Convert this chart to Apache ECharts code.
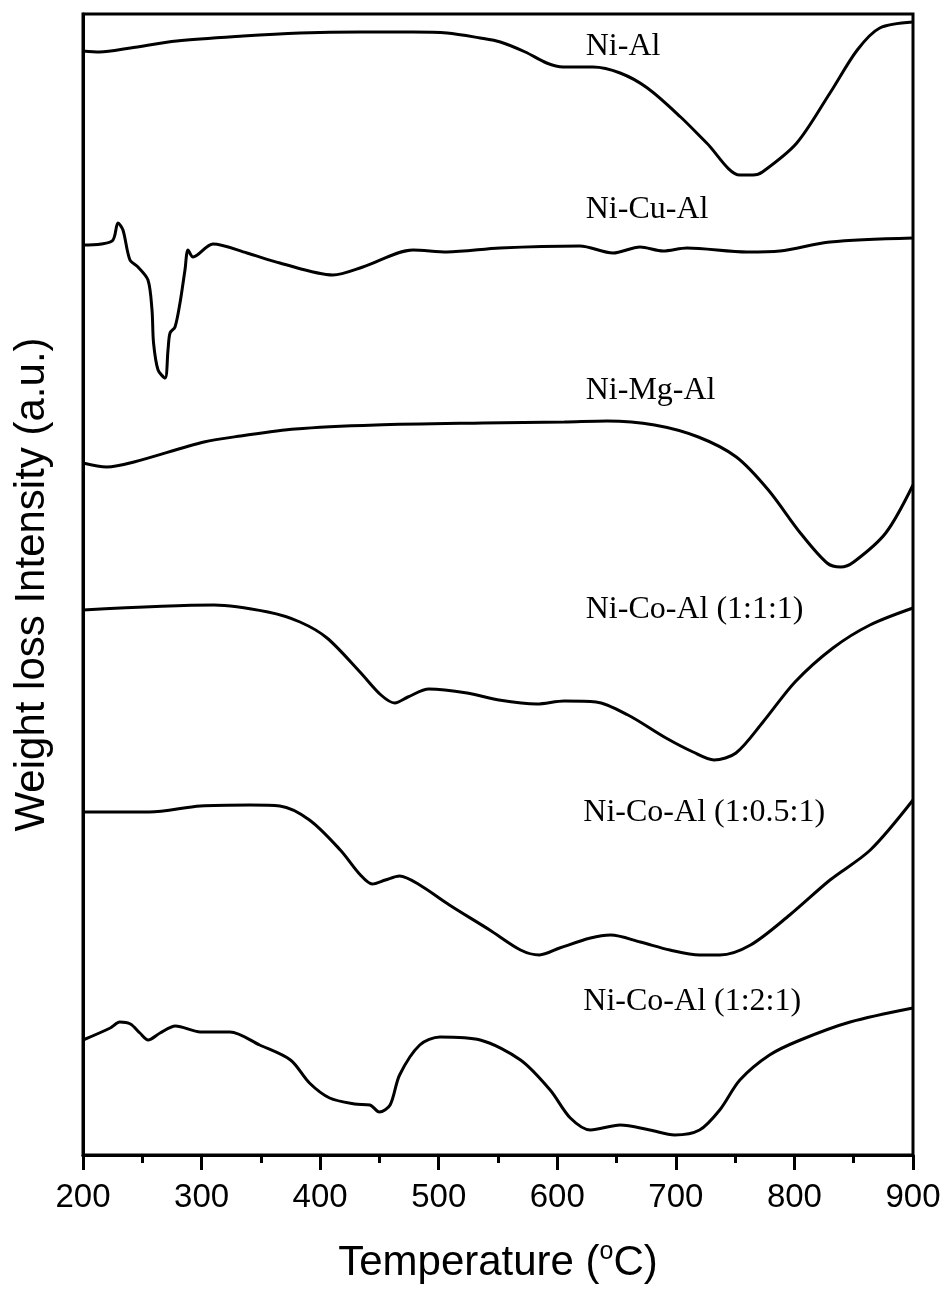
<!DOCTYPE html>
<html>
<head>
<meta charset="utf-8">
<script src="https://cdn.jsdelivr.net/npm/echarts@6/dist/echarts.min.js"></script>
<style>
  html, body { margin: 0; padding: 0; background: #fff; }
  #container { width: 949px; height: 1295px; }
</style>
</head>
<body>
<div id="container"></div>
<script>
// x ticks (temperature, oC)
var xTicks = [200, 300, 400, 500, 600, 700, 800, 900];

// curves: [temperature, intensity a.u.]
var niAl = [[200,1104],[214,1103],[240,1107],[279,1114],[335,1119],[383,1122],[434,1123],[478,1123],[507,1122],[535,1117],[552,1113],[573,1103],[591,1092],[605,1088],[630,1088],[653,1082],[676,1067],[704,1038],[726,1012],[754,980],[765,980],[773,983],[802,1012],[830,1062],[853,1105],[872,1127],[900,1133]];
var niCuAl = [[200,910],[224.5,914],[229.5,932],[233.7,925],[239.6,895],[246.4,888],[254.8,875],[258.2,845],[259.5,812],[263.3,785],[269.2,777],[271.7,805],[273.4,822],[277.6,828],[281.8,852],[286,885],[288.6,905],[292.8,898],[309.6,911],[338.3,902],[366,892],[410.8,880],[436,888],[478.3,905],[507,903],[551.7,907],[619,909],[647,902],[669.8,908],[689.2,904],[709.4,907],[760,903],[787.8,904],[830,913],[900,917]];
var niMgAl = [[200,692],[220,688],[243,693],[302,713],[333,719],[379,726],[447,730],[537,732],[606,733],[642,734],[682,730],[719,718],[751,698],[778,665],[805,622],[827.5,592],[839,588],[850,593],[877,622],[900,670]];
var niCoAl111 = [[200,545],[310.5,550],[356,543],[383,533],[405.8,517],[433.6,483],[451.3,460],[463,452],[474,458],[491.8,466],[523.9,462],[550.8,455],[582.9,451],[605.7,454],[632.7,453],[659.6,440],[691.7,417],[714.5,403],[732.2,395],[750.7,402],[773.5,433],[800.5,473],[832.5,507],[863.7,530],[900,547]];
var niCoAl1051 = [[200,343],[256,343],[299,349],[341,350],[366,349],[391,335],[417,305],[434,280],[444,271],[455,275],[467,279],[484,270],[509,250],[543,225],[569,205],[585,200],[602,207],[628,217],[645,220],[670,213],[695,205],[720,200],[737,200],[763,210],[796,240],[830,275],[864,305],[900,355]];
var niCoAl121 = [[200,115],[223,127],[231,133],[240,131],[248,122],[255,115],[265,122],[278,129],[299,123],[324,123],[349,110],[375,95],[391,72],[408,57],[429,51],[442,50],[450,43],[459,50],[467,80],[484,110],[501,118],[535,115],[569,95],[594,65],[611,37],[628,25],[653,30],[678,25],[699,20],[720,25],[737,45],[754,75],[779,100],[805,115],[847,133],[900,147]];

var seriesNames = ['Ni-Al', 'Ni-Cu-Al', 'Ni-Mg-Al', 'Ni-Co-Al (1:1:1)', 'Ni-Co-Al (1:0.5:1)', 'Ni-Co-Al (1:2:1)'];
var seriesData = [niAl, niCuAl, niMgAl, niCoAl111, niCoAl1051, niCoAl121];
// label spots [temperature, intensity] (left edge, middle of text)
var labelAt = [[624,1108],[624,945],[624,764],[624,545],[622,342],[622,153]];

var myChart = echarts.init(document.getElementById('container'));

var series = [];
for (var i = 0; i < seriesData.length; i++) {
    series.push({
        name: seriesNames[i],
        type: 'line',
        data: seriesData[i],
        showSymbol: false,
        smooth: 0.3,
        lineStyle: { color: '#000', width: 3 }
    });
}

var option = {
    animation: false,
    backgroundColor: '#fff',
    grid: {
        left: 83, right: 36, top: 14, bottom: 140,
        show: true, borderColor: '#000', borderWidth: 3
    },
    xAxis: {
        type: 'value',
        min: 200, max: 900, interval: 100,
        name: 'Temperature ({sup|o}C)',
        nameLocation: 'middle',
        nameGap: 85,
        nameTextStyle: {
            fontFamily: 'Liberation Sans', fontSize: 42, color: '#000',
            rich: { sup: { fontFamily: 'Liberation Sans', fontSize: 25, color: '#000', padding: [0, 0, 22, 0] } }
        },
        axisLine: { show: true, lineStyle: { color: '#000', width: 3 } },
        axisTick: { show: true, length: 15, lineStyle: { color: '#000', width: 3 } },
        minorTick: { show: true, splitNumber: 2, length: 8, lineStyle: { color: '#000', width: 3 } },
        splitLine: { show: false },
        axisLabel: {
            fontFamily: 'Liberation Sans', fontSize: 33, color: '#000', margin: 26,
            formatter: function (v) { return xTicks.indexOf(v) >= 0 ? String(v) : ''; }
        }
    },
    yAxis: {
        type: 'value',
        min: 0, max: 1141,
        name: 'Weight loss Intensity (a.u.)',
        nameLocation: 'middle',
        nameGap: 30,
        nameTextStyle: { fontFamily: 'Liberation Sans', fontSize: 42, color: '#000' },
        axisLine: { show: true, lineStyle: { color: '#000', width: 3 } },
        axisTick: { show: false },
        axisLabel: { show: false },
        splitLine: { show: false }
    },
    series: series
};

myChart.setOption(option);

// curve names as text next to each curve
var graphics = [];
for (var k = 0; k < labelAt.length; k++) {
    var p = myChart.convertToPixel({ gridIndex: 0 }, labelAt[k]);
    graphics.push({
        type: 'text',
        x: p[0], y: p[1],
        style: {
            text: seriesNames[k],
            fill: '#000',
            font: '32px "Liberation Serif"',
            textAlign: 'left',
            textVerticalAlign: 'middle'
        }
    });
}
myChart.setOption({ graphic: graphics });
</script>
</body>
</html>
